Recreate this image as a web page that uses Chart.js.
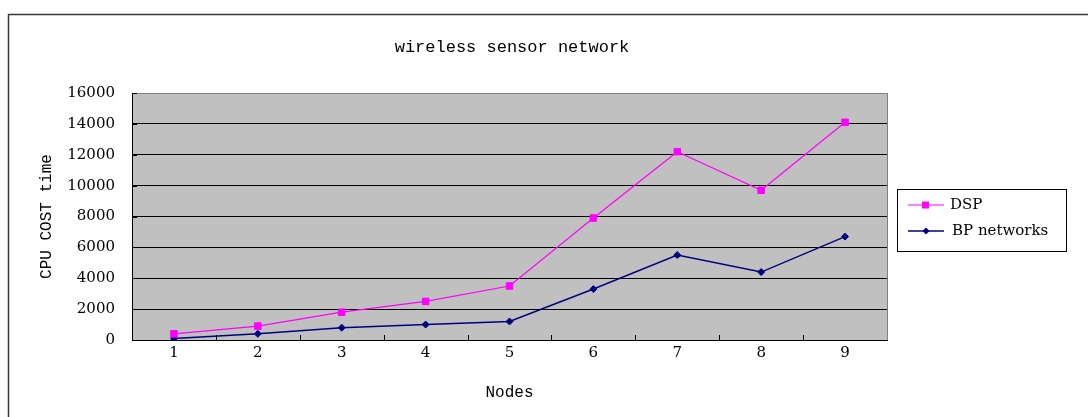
<!DOCTYPE html>
<html>
<head>
<meta charset="utf-8">
<script src="https://cdn.jsdelivr.net/npm/chart.js@4"></script>
<style>
  html, body { margin: 0; padding: 0; background: #fff; overflow: hidden; }
  #wrap { width: 1088px; height: 417px; }
</style>
</head>
<body>
<div id="wrap"><canvas id="chart" width="1088" height="417"></canvas></div>
<script>
// data
const nodes = ["1", "2", "3", "4", "5", "6", "7", "8", "9"];
const dspCost = [400, 900, 1800, 2500, 3500, 7900, 12200, 9700, 14100];
const bpCost = [100, 400, 800, 1000, 1200, 3300, 5500, 4400, 6700];
const yMin = 0, yMax = 16000, yStep = 2000;
const chartTitle = "wireless sensor network";

const monoFont = "'Liberation Mono', 'DejaVu Sans Mono', monospace";
const serifFont = "'DejaVu Serif', 'Liberation Serif', serif";

Chart.defaults.color = "#000";

// small canvases used as legend samples (line with marker in the middle)
function legendSample(color, shape, lw) {
    const c = document.createElement("canvas");
    c.width = 36; c.height = 10;
    const g = c.getContext("2d");
    g.strokeStyle = color; g.fillStyle = color; g.lineWidth = lw;
    g.beginPath(); g.moveTo(0, 5); g.lineTo(36, 5); g.stroke();
    g.beginPath();
    if (shape === "rect") {
        g.rect(14, 1.5, 7, 7);
    } else {
        g.moveTo(18, 1.5); g.lineTo(21.5, 5); g.lineTo(18, 8.5); g.lineTo(14.5, 5); g.closePath();
    }
    g.fill();
    return c;
}

const framePlugin = {
    id: "frame",
    beforeDraw(chart) {
        const ctx = chart.ctx, a = chart.chartArea;
        ctx.save();
        ctx.fillStyle = "#fff";
        ctx.fillRect(0, 0, chart.width, chart.height);
        ctx.fillStyle = "#C0C0C0";
        ctx.fillRect(a.left, a.top, a.right - a.left, a.bottom - a.top);
        ctx.restore();
    },
    afterDraw(chart) {
        const ctx = chart.ctx, a = chart.chartArea;
        ctx.save();
        // outer chart border (runs off the right and bottom)
        ctx.strokeStyle = "#3a3a3a";
        ctx.lineWidth = 1.5;
        ctx.strokeRect(8.5, 14.5, 2000, 2000);

        // title, centred on the whole chart object
        ctx.fillStyle = "#000";
        ctx.font = "17px " + monoFont;
        ctx.textAlign = "center";
        ctx.textBaseline = "middle";
        ctx.fillText(chartTitle, 512, 47);
        ctx.textAlign = "left";

        // right edge of the plot
        ctx.strokeStyle = "#808080";
        ctx.lineWidth = 1;
        ctx.beginPath();
        ctx.moveTo(Math.round(a.right) + 0.5, a.top);
        ctx.lineTo(Math.round(a.right) + 0.5, a.bottom);
        ctx.stroke();

        // inside tick marks
        ctx.strokeStyle = "#000";
        const xs = chart.scales.x, ys = chart.scales.y;
        const n = nodes.length, w = (xs.right - xs.left) / n;
        ctx.beginPath();
        for (let i = 1; i < n; i++) {
            const x = Math.round(xs.left + i * w) + 0.5;
            ctx.moveTo(x, a.bottom);
            ctx.lineTo(x, a.bottom - 5);
        }
        ys.ticks.forEach(t => {
            const y = Math.round(ys.getPixelForValue(t.value)) + 0.5;
            ctx.moveTo(a.left, y);
            ctx.lineTo(a.left + 5, y);
        });
        ctx.stroke();

        // legend box
        const lx = a.right + 10, ly = a.top + 96, lw = 169, lh = 62;
        ctx.strokeStyle = "#000";
        ctx.strokeRect(Math.round(lx) + 0.5, Math.round(ly) + 0.5, lw, lh);
        ctx.font = "15px " + serifFont;
        ctx.textBaseline = "middle";
        ctx.fillStyle = "#000";
        chart.data.datasets.forEach((ds, i) => {
            const cy = ly + 16 + i * 26;
            ctx.drawImage(ds.legendImage, lx + 11, cy - 5);
            ctx.fillText(ds.label, lx + 53 + i * 2, cy);
        });
        ctx.restore();
    }
};

new Chart(document.getElementById("chart"), {
    type: "line",
    data: {
        labels: nodes,
        datasets: [
            {
                label: "DSP",
                data: dspCost,
                borderColor: "#FF00FF",
                backgroundColor: "#FF00FF",
                borderWidth: 1.2,
                pointStyle: "rect",
                pointRadius: 4.6,
                pointBorderWidth: 1,
                tension: 0,
                legendImage: legendSample("#FF00FF", "rect", 1.2)
            },
            {
                label: "BP networks",
                data: bpCost,
                borderColor: "#000080",
                backgroundColor: "#000080",
                borderWidth: 1.5,
                pointStyle: "rectRot",
                pointRadius: 3.5,
                pointBorderWidth: 1,
                tension: 0,
                legendImage: legendSample("#000080", "diamond", 1.3)
            }
        ]
    },
    options: {
        responsive: false,
        devicePixelRatio: 1,
        animation: false,
        layout: { padding: { left: 30, top: 93, right: 201, bottom: 0 } },
        plugins: {
            legend: { display: false },
            tooltip: { enabled: false },
            title: { display: false }
        },
        scales: {
            x: {
                offset: true,
                grid: { drawOnChartArea: false, drawTicks: false },
                border: { color: "#000", width: 1 },
                ticks: { padding: 4, font: { family: serifFont, size: 15 } },
                title: {
                    display: true,
                    text: "Nodes",
                    font: { family: monoFont, size: 16, weight: "normal" },
                    padding: { top: 10, bottom: 15 }
                },
                afterFit: s => { s.height = 77; }
            },
            y: {
                min: yMin,
                max: yMax,
                grid: {
                    drawTicks: false,
                    color: ctx => ctx.tick && ctx.tick.value === yMax ? "#808080" : "#000",
                    lineWidth: 1
                },
                border: { color: "#000", width: 1 },
                ticks: {
                    stepSize: yStep,
                    padding: 17,
                    font: { family: serifFont, size: 15 },
                    callback: v => String(v)
                },
                title: {
                    display: true,
                    text: "CPU COST time",
                    font: { family: monoFont, size: 16, weight: "normal" },
                    padding: { top: 7, bottom: 11 }
                },
                afterFit: s => { s.width = 102; }
            }
        }
    },
    plugins: [framePlugin]
});
</script>
</body>
</html>
